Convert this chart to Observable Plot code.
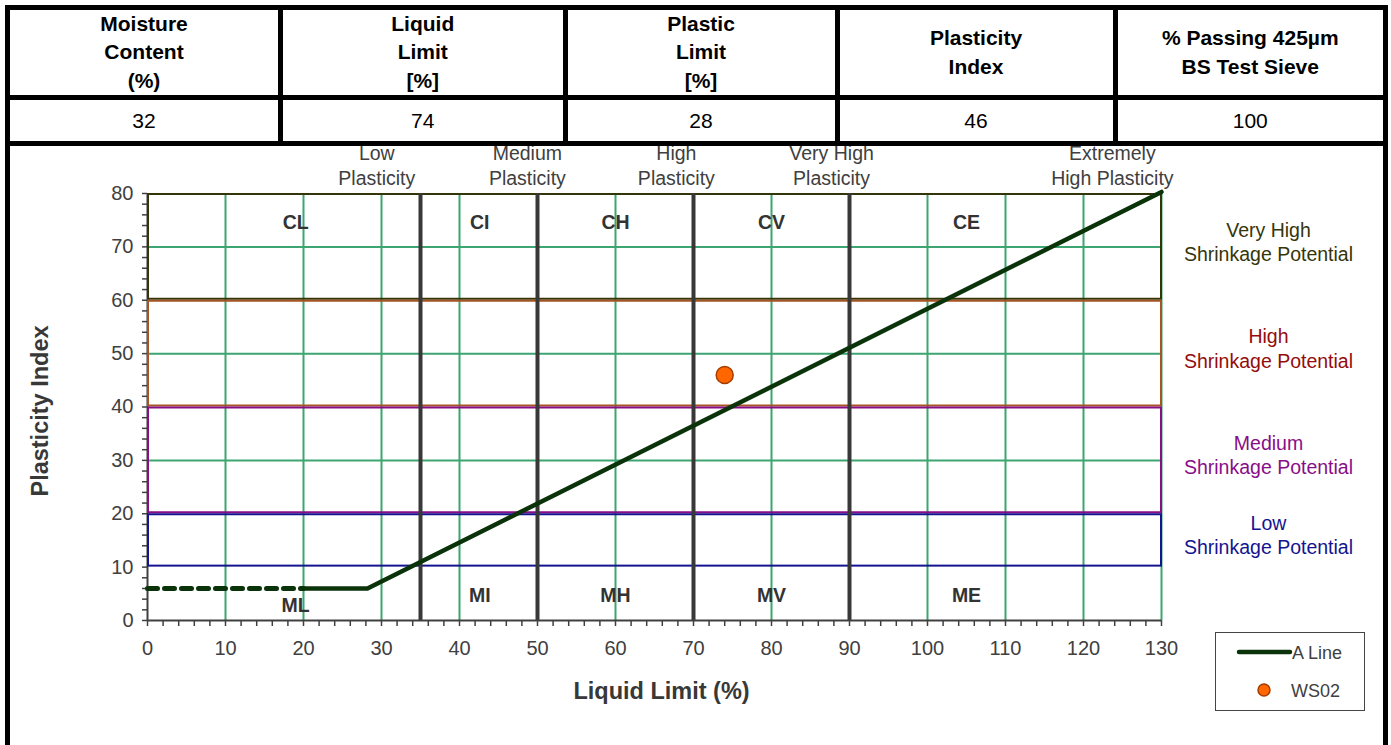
<!DOCTYPE html>
<html><head><meta charset="utf-8">
<script src="https://cdn.jsdelivr.net/npm/d3@7"></script>
<script src="https://cdn.jsdelivr.net/npm/@observablehq/plot@0.6"></script>
<style>
body{margin:0;background:#fff;font-family:"Liberation Sans",Arial,sans-serif;}
#wrap{position:relative;width:1391px;height:745px;overflow:hidden;background:#fff}
.bar{position:absolute;background:#000;z-index:5}
.cell{position:absolute;display:flex;align-items:center;justify-content:center;text-align:center;color:#000;white-space:pre-line}
.hdr{font-weight:bold;font-size:21px;line-height:28.5px}
.val{font-size:21px}
#chart{position:absolute;left:0;top:146px}
#legend{position:absolute;left:1215px;top:632px;width:148px;height:77px;border:1px solid #444;background:#fff;font-size:18px;color:#404040}
</style></head><body><div id="wrap"><div id="chart"></div></div>
<script>
// ---- table data ----
const headers = ["Moisture\nContent\n(%)", "Liquid\nLimit\n[%]", "Plastic\nLimit\n[%]", "Plasticity\nIndex", "% Passing 425µm\nBS Test Sieve"];
const values = [32, 74, 28, 46, 100];

// ---- chart data ----
const xTicks = [0,10,20,30,40,50,60,70,80,90,100,110,120,130];
const yTicks = [0,10,20,30,40,50,60,70,80];
const minorStep = 2;
const gridX = [10,20,30,40,50,60,70,80,90,100,110,120,130];
const gridY = [30,50,70];
const plasticityBounds = [35,50,70,90];
const plasticityLabels = ["Low\nPlasticity","Medium\nPlasticity","High\nPlasticity","Very High\nPlasticity","Extremely\nHigh Plasticity"];
const plasticityLabelX = [29.4,48.7,67.8,87.7,123.7];
const shrinkLabels = ["Very High\nShrinkage Potential","High\nShrinkage Potential","Medium\nShrinkage Potential","Low\nShrinkage Potential"];
const shrinkLow = [60,40,20,10];
const shrinkHigh = [80,60,40,20];
const shrinkStroke = ["#35350a","#a65423","#880e88","#141490"];
const shrinkText = ["#35350a","#940c0c","#880e88","#141490"];
const clayLabels = ["CL","CI","CH","CV","CE"];
const siltLabels = ["ML","MI","MH","MV","ME"];
const zoneLabelX = [19,42.6,60,80,105];
const clayLabelY = [74.5,74.5,74.5,74.5,74.5];
const siltLabelY = [2.8,4.7,4.7,4.7,4.7];
const aLineX = [20,28.2,130];
const aLineY = [6,6,80.3];
const aLineDashX = [0,20];
const aLineDashY = [6,6];
const sampleName = ["WS02"];
const sampleLL = [74];
const samplePI = [46];

// ---- table ----
const wrap = document.getElementById("wrap");
const colLines = [7.5, 280.5, 565, 837, 1115, 1385.5];
function bar(l,t,w,h){const d=document.createElement("div");d.className="bar";Object.assign(d.style,{left:l+"px",top:t+"px",width:w+"px",height:h+"px"});wrap.appendChild(d);}
bar(5,5,1383,5); bar(5,95,1383,5); bar(5,141,1383,5);
bar(5,5,5,740); bar(1383,5,5,740);
for (let i=1;i<colLines.length-1;i++) bar(colLines[i]-2.5,5,5,141);
headers.forEach((h,i)=>{
  const l=colLines[i]+2.5, r=colLines[i+1]-2.5;
  const c=document.createElement("div");c.className="cell hdr";c.textContent=h;
  Object.assign(c.style,{left:l+"px",width:(r-l)+"px",top:"10px",height:"85px"});wrap.appendChild(c);
  const v=document.createElement("div");v.className="cell val";v.textContent=values[i];
  Object.assign(v.style,{left:l+"px",width:(r-l)+"px",top:"100px",height:"41px"});wrap.appendChild(v);
});

// ---- chart ----
const minorX = d3.range(xTicks[0], xTicks[xTicks.length-1]+1, minorStep);
const minorY = d3.range(yTicks[0], yTicks[yTicks.length-1]+1, minorStep);
const shrink = shrinkLabels.map((t,i)=>({t, y1:shrinkLow[i], y2:shrinkHigh[i], s:shrinkStroke[i], c:shrinkText[i], ym:(shrinkLow[i]+shrinkHigh[i])/2}));
const topLab = plasticityLabels.map((t,i)=>({t,x:plasticityLabelX[i]}));
const clay = clayLabels.map((t,i)=>({t,x:zoneLabelX[i],y:clayLabelY[i]}));
const silt = siltLabels.map((t,i)=>({t,x:zoneLabelX[i],y:siltLabelY[i]}));
const aLine = aLineX.map((x,i)=>({x,y:aLineY[i]}));
const aDash = aLineDashX.map((x,i)=>({x,y:aLineDashY[i]}));
const samples = sampleName.map((n,i)=>({n,x:sampleLL[i],y:samplePI[i]}));
const grey = "#404040";

const chart = Plot.plot({
  width: 1391, height: 599,
  marginLeft: 147, marginRight: 230, marginTop: 47, marginBottom: 125,
  style: {fontFamily: '"Liberation Sans", Arial, sans-serif', color: grey, background: "transparent", overflow: "visible"},
  x: {domain: [0,130], label: null},
  y: {domain: [0,80], label: null},
  marks: [
    Plot.ruleX(gridX, {y1: 0, y2: 80, stroke: "#3da571", strokeWidth: 2}),
    Plot.ruleY(gridY, {x1: 0, x2: 130, stroke: "#3da571", strokeWidth: 2}),
    Plot.ruleX([0], {y1: 0, y2: 80, stroke: grey, strokeWidth: 2}),
    Plot.rect(shrink, {x1: 0, x2: 130, y1: "y1", y2: "y2", stroke: "s", strokeWidth: 2, fill: "none", insetTop: 1, insetBottom: 1, insetLeft: 1, insetRight: 0}),
    Plot.ruleX(plasticityBounds, {y1: 0, y2: 80, stroke: "#383838", strokeWidth: 4}),
    Plot.ruleY([0], {x1: 0, x2: 130, stroke: grey, strokeWidth: 2}),
    Plot.axisX({ticks: minorX, tickFormat: d => d % 10 === 0 ? d : "", tickSize: 6, tickPadding: 14, fontSize: 20, stroke: grey, strokeWidth: 1.5, label: null}),
    Plot.axisY({ticks: minorY, tickFormat: d => d % 10 === 0 ? d : "", tickSize: 5, tickPadding: 9, fontSize: 20, stroke: grey, strokeWidth: 1.5, label: null}),
    Plot.line(aDash, {x: "x", y: "y", stroke: "#0a330a", strokeWidth: 5, strokeDasharray: "10,7"}),
    Plot.line(aLine, {x: "x", y: "y", stroke: "#0a330a", strokeWidth: 4.5, strokeLinejoin: "round", strokeLinecap: "round"}),
    Plot.dot(samples, {x: "x", y: "y", r: 8.5, fill: "#ff6600", stroke: "#a63c00", strokeWidth: 1.5}),
    Plot.text(clay, {x: "x", y: "y", text: "t", fontSize: 19.5, fontWeight: "bold", fill: "#333"}),
    Plot.text(silt, {x: "x", y: "y", text: "t", fontSize: 19.5, fontWeight: "bold", fill: "#333"}),
    Plot.text(topLab, {x: "x", y: 80, text: "t", fontSize: 19.5, fill: grey, lineAnchor: "bottom", lineHeight: 1.28, dy: -9}),
    Plot.text(shrink, {x: 130, y: "ym", text: "t", fontSize: 19.5, fill: "c", lineHeight: 1.25, dx: 107, dy: -6}),
    Plot.text(["Plasticity Index"], {frameAnchor: "left", textAnchor: "middle", lineAnchor: "middle", text: d => d, rotate: -90, dx: -107, dy: 4, fontSize: 23.5, fontWeight: "bold", fill: "#383838"}),
    Plot.text(["Liquid Limit (%)"], {frameAnchor: "bottom", textAnchor: "middle", lineAnchor: "middle", text: d => d, dx: 7, dy: 71, fontSize: 23.5, fontWeight: "bold", fill: "#383838"})
  ]
});
document.getElementById("chart").appendChild(chart);

// ---- legend ----
const lg = document.createElement("div"); lg.id = "legend";
lg.innerHTML = `<svg width="148" height="77" style="position:absolute;left:0;top:0">
<line x1="23" y1="19" x2="74" y2="19" stroke="#0a330a" stroke-width="4.5" stroke-linecap="round"/>
<text x="76" y="26" font-size="18" fill="#404040" font-family="Liberation Sans, Arial">A Line</text>
<circle cx="48" cy="57" r="6" fill="#ff6600" stroke="#a63c00" stroke-width="1.5"/>
<text x="75" y="64" font-size="18" fill="#404040" font-family="Liberation Sans, Arial">${sampleName[0]}</text></svg>`;
wrap.appendChild(lg);
</script></body></html>
